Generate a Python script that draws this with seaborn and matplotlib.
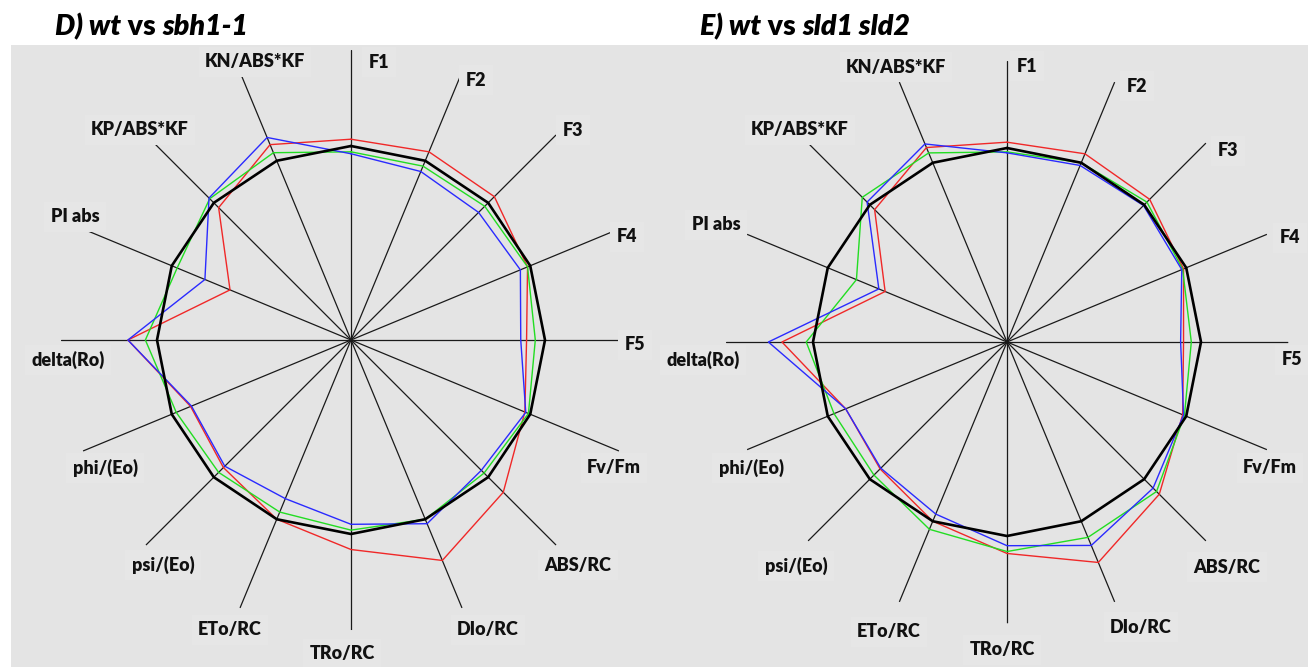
import numpy as np
import pandas as pd
import matplotlib
matplotlib.use("Agg")
import matplotlib.pyplot as plt
import seaborn as sns
from matplotlib.patches import Rectangle

# JIP-test parameters, clockwise from the top
parameters = ["F1", "F2", "F3", "F4", "F5", "Fv/Fm", "ABS/RC", "DIo/RC",
              "TRo/RC", "ETo/RC", "psi/(Eo)", "phi/(Eo)", "delta(Ro)",
              "PI abs", "KP/ABS*KF", "KN/ABS*KF"]

# Values normalised to the wild type (wt = 1)
wt = [1.0] * 16

d_red = [1.035, 1.05, 1.045, 0.985, 0.905, 0.97, 1.11, 1.23,
         1.08, 1.00, 0.93, 0.895, 1.15, 0.675, 0.965, 1.09]
d_green = [0.97, 0.97, 0.975, 0.985, 0.95, 0.99, 0.97, 1.00,
           0.98, 0.96, 0.965, 0.975, 1.06, 0.97, 1.03, 1.045]
d_blue = [0.96, 0.94, 0.93, 0.945, 0.875, 0.975, 0.95, 1.025,
          0.95, 0.885, 0.92, 0.89, 1.15, 0.815, 1.035, 1.13]

e_red = [1.03, 1.05, 1.04, 0.985, 0.91, 0.98, 1.11, 1.23,
         1.09, 1.00, 0.925, 0.90, 1.16, 0.68, 0.965, 1.085]
e_green = [0.98, 1.00, 1.02, 0.98, 0.95, 0.99, 1.09, 1.09,
           1.08, 1.045, 0.97, 0.965, 1.035, 0.84, 1.055, 1.055]
e_blue = [0.975, 0.985, 0.995, 0.975, 0.895, 0.985, 1.065, 1.135,
          1.05, 0.96, 0.92, 0.90, 1.23, 0.715, 1.02, 1.105]

sns.set_theme(style="white")
plt.rcParams["font.family"] = ["Lato", "DejaVu Sans"]

W, H = 1308, 667
fig = plt.figure(figsize=(W / 100, H / 100), dpi=100)
fig.patch.set_facecolor("white")
fig.add_artist(Rectangle((11 / W, 0), (W - 11) / W, 622 / H,
                         transform=fig.transFigure, facecolor="#e4e4e4",
                         edgecolor="none", zorder=-5))

theta = np.arange(len(parameters)) * 2 * np.pi / len(parameters)

LABEL_OFFSETS_D = [(28, -278), (125, -260), (222, -210), (276, -103),
                   (284, 5), (263, 128), (227, 225), (137, 290),
                   (-9, 314), (-121, 290), (-188, 225), (-246, 128),
                   (-283, 20), (-276, -123), (-211, -210), (-96, -278)]
LABEL_OFFSETS_E = [(20, -276), (130, -256), (221, -191), (283, -104),
                   (285, 18), (263, 126), (220, 225), (134, 285),
                   (-5, 308), (-118, 290), (-211, 224), (-256, 126),
                   (-304, 18), (-291, -117), (-207, -212), (-111, -275)]


def closed(values):
    return pd.DataFrame({"theta": np.append(theta, theta[0] + 2 * np.pi),
                         "value": np.append(values, values[0])})


def radar(cx, cy, rmax, unit_px, series, offsets):
    radius = rmax * unit_px
    ax = fig.add_axes([(cx - radius) / W, (H - cy - radius) / H,
                       2 * radius / W, 2 * radius / H], projection="polar")
    for values, color, lw in series:
        sns.lineplot(data=closed(values), x="theta", y="value", sort=False,
                     estimator=None, color=color, linewidth=lw, ax=ax)
    ax.set_theta_zero_location("N")
    ax.set_theta_direction(-1)
    ax.set_ylim(0, rmax)
    ax.set_xticks(theta)
    ax.set_xticklabels([])
    ax.set_yticks([])
    ax.set_xlabel("")
    ax.set_ylabel("")
    ax.xaxis.grid(True, color="#1a1a1a", linewidth=0.9)
    ax.yaxis.grid(False)
    ax.tick_params(length=0, pad=0)
    ax.spines["polar"].set_visible(False)
    ax.patch.set_visible(False)
    for lab, (dx, dy) in zip(parameters, offsets):
        ax.annotate(lab, xy=(0, 0), xycoords="data", xytext=(dx, -dy),
                    textcoords="offset pixels", ha="center", va="center",
                    fontsize=13, fontweight="heavy", color="#111111",
                    annotation_clip=False,
                    bbox=dict(boxstyle="square,pad=0.35", fc="#e6e6e6",
                              ec="none"))
    return ax


RED, GREEN, BLUE = "#f02828", "#22dd22", "#2a2aff"

radar(351, 340, 1.495, 194,
      [(d_red, RED, 1.0), (d_green, GREEN, 1.0), (d_blue, BLUE, 1.0),
       (wt, "black", 1.9)], LABEL_OFFSETS_D)
radar(1007, 342, 1.45, 194,
      [(e_red, RED, 1.0), (e_green, GREEN, 1.0), (e_blue, BLUE, 1.0),
       (wt, "black", 1.9)], LABEL_OFFSETS_E)


def rich_title(x_px, base_px, pieces):
    renderer = fig.canvas.get_renderer()
    x = x_px
    for text, style in pieces:
        t = fig.text(x / W, 1 - base_px / H, text, fontsize=20.5,
                     fontweight="heavy", fontstyle=style, va="baseline",
                     ha="left", color="black")
        x += t.get_window_extent(renderer).width


rich_title(55, 35, [("D) wt", "italic"), (" vs ", "normal"),
                    ("sbh1-1", "italic")])
rich_title(700, 35, [("E) wt", "italic"), (" vs ", "normal"),
                     ("sld1 sld2", "italic")])

fig.savefig("out.png", dpi=100, facecolor="white")
